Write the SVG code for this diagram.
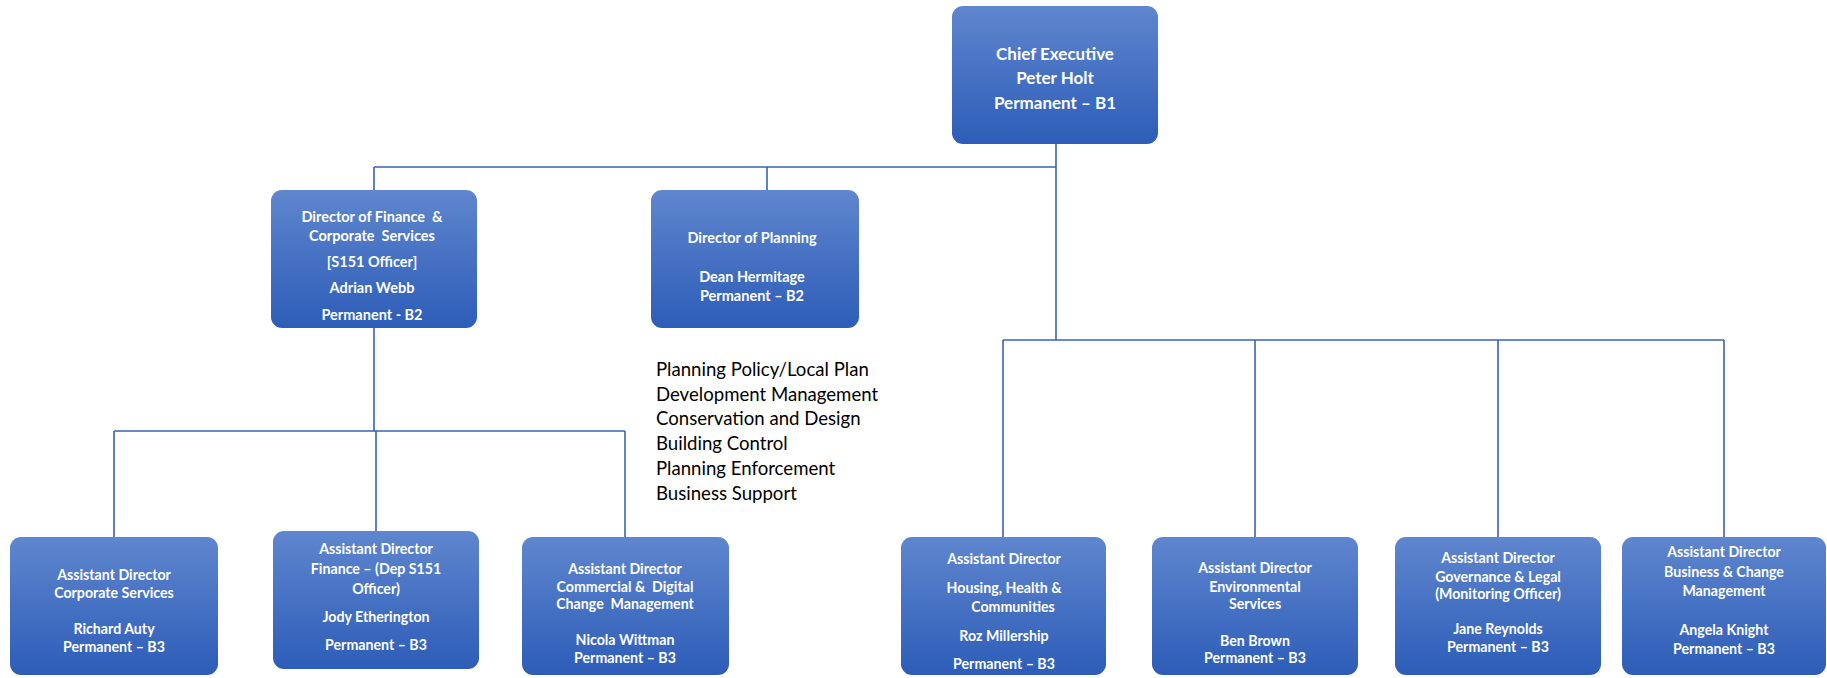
<svg xmlns="http://www.w3.org/2000/svg" width="1827" height="678" viewBox="0 0 1827 678">
<defs>
<linearGradient id="g" x1="0" y1="0" x2="0" y2="1">
<stop offset="0" stop-color="#5F86CE"/>
<stop offset="1" stop-color="#2D5DB8"/>
</linearGradient>
<style>
.box{fill:url(#g);}
.t{font-family:Lato,"Liberation Sans",sans-serif;font-weight:bold;fill:#ffffff;text-anchor:middle;white-space:pre;}
.t1{font-size:17px;}
.t2{font-size:14.5px;}
.t3{font-size:14.2px;}
.c{stroke:#3A62AE;stroke-width:1.6;fill:none;}
.list{font-family:Lato,"Liberation Sans",sans-serif;font-size:18.6px;fill:#000000;}
</style>
</defs>
<rect width="1827" height="678" fill="#ffffff"/>
<g id="connectors">
<path class="c" d="M1056 144 V340"/>
<path class="c" d="M374 167 H1056"/>
<path class="c" d="M374 167 V190"/>
<path class="c" d="M767 167 V190"/>
<path class="c" d="M374 328 V431"/>
<path class="c" d="M114 431 H625"/>
<path class="c" d="M114 431 V537"/>
<path class="c" d="M376 431 V531"/>
<path class="c" d="M625 431 V537"/>
<path class="c" d="M1003 340 H1724"/>
<path class="c" d="M1003 340 V537"/>
<path class="c" d="M1255 340 V537"/>
<path class="c" d="M1498 340 V537"/>
<path class="c" d="M1724 340 V537"/>
</g>
<g id="chief">
<rect class="box" x="952" y="6" width="206" height="138" rx="11"/>
<text class="t t1" x="1055" y="60">Chief Executive</text>
<text class="t t1" x="1055" y="84">Peter Holt</text>
<text class="t t1" x="1055" y="109">Permanent – B1</text>
</g>
<g id="dir-finance">
<rect class="box" x="271" y="190" width="206" height="138" rx="11"/>
<text class="t t2" x="372" y="222" xml:space="preserve">Director of Finance  &amp;</text>
<text class="t t2" x="372" y="241" xml:space="preserve">Corporate  Services</text>
<text class="t t2" x="372" y="267">[S151 Officer]</text>
<text class="t t2" x="372" y="293">Adrian Webb</text>
<text class="t t2" x="372" y="320">Permanent - B2</text>
</g>
<g id="dir-planning">
<rect class="box" x="651" y="190" width="208" height="138" rx="11"/>
<text class="t t2" x="752" y="243">Director of Planning</text>
<text class="t t2" x="752" y="282">Dean Hermitage</text>
<text class="t t2" x="752" y="301">Permanent – B2</text>
</g>
<g id="planning-list">
<text class="list" x="656" y="376">Planning Policy/Local Plan</text>
<text class="list" x="656" y="401">Development Management</text>
<text class="list" x="656" y="425">Conservation and Design</text>
<text class="list" x="656" y="450">Building Control</text>
<text class="list" x="656" y="475">Planning Enforcement</text>
<text class="list" x="656" y="500">Business Support</text>
</g>
<g id="ad-corporate">
<rect class="box" x="10" y="537" width="208" height="138" rx="11"/>
<text class="t t3" x="114" y="580">Assistant Director</text>
<text class="t t3" x="114" y="598">Corporate Services</text>
<text class="t t3" x="114" y="634">Richard Auty</text>
<text class="t t3" x="114" y="652">Permanent – B3</text>
</g>
<g id="ad-finance">
<rect class="box" x="273" y="531" width="206" height="138" rx="11"/>
<text class="t t3" x="376" y="554">Assistant Director</text>
<text class="t t3" x="376" y="574">Finance – (Dep S151</text>
<text class="t t3" x="376" y="594">Officer)</text>
<text class="t t3" x="376" y="622">Jody Etherington</text>
<text class="t t3" x="376" y="650">Permanent – B3</text>
</g>
<g id="ad-commercial">
<rect class="box" x="522" y="537" width="207" height="138" rx="11"/>
<text class="t t3" x="625" y="574">Assistant Director</text>
<text class="t t3" x="625" y="592" xml:space="preserve">Commercial &amp;  Digital</text>
<text class="t t3" x="625" y="609" xml:space="preserve">Change  Management</text>
<text class="t t3" x="625" y="645">Nicola Wittman</text>
<text class="t t3" x="625" y="663">Permanent – B3</text>
</g>
<g id="ad-housing">
<rect class="box" x="901" y="537" width="205" height="138" rx="11"/>
<text class="t t3" x="1004" y="564">Assistant Director</text>
<text class="t t3" x="1004" y="593">Housing, Health &amp;</text>
<text class="t t3" x="1013" y="612">Communities</text>
<text class="t t3" x="1004" y="641">Roz Millership</text>
<text class="t t3" x="1004" y="669">Permanent – B3</text>
</g>
<g id="ad-environmental">
<rect class="box" x="1152" y="537" width="206" height="138" rx="11"/>
<text class="t t3" x="1255" y="573">Assistant Director</text>
<text class="t t3" x="1255" y="592">Environmental</text>
<text class="t t3" x="1255" y="609">Services</text>
<text class="t t3" x="1255" y="646">Ben Brown</text>
<text class="t t3" x="1255" y="663">Permanent – B3</text>
</g>
<g id="ad-governance">
<rect class="box" x="1395" y="537" width="206" height="138" rx="11"/>
<text class="t t3" x="1498" y="563">Assistant Director</text>
<text class="t t3" x="1498" y="582">Governance &amp; Legal</text>
<text class="t t3" x="1498" y="599">(Monitoring Officer)</text>
<text class="t t3" x="1498" y="634">Jane Reynolds</text>
<text class="t t3" x="1498" y="652">Permanent – B3</text>
</g>
<g id="ad-business">
<rect class="box" x="1622" y="537" width="204" height="138" rx="11"/>
<text class="t t3" x="1724" y="557">Assistant Director</text>
<text class="t t3" x="1724" y="577">Business &amp; Change</text>
<text class="t t3" x="1724" y="596">Management</text>
<text class="t t3" x="1724" y="635">Angela Knight</text>
<text class="t t3" x="1724" y="654">Permanent – B3</text>
</g>
</svg>
